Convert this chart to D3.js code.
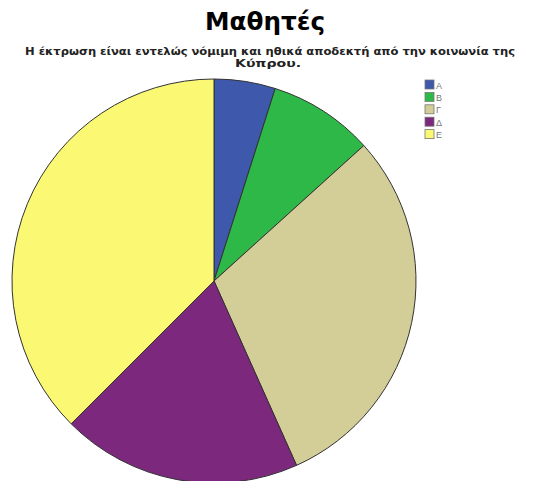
<!DOCTYPE html>
<html><head><meta charset="utf-8">
<script src="https://cdn.jsdelivr.net/npm/d3@7"></script>
<style>body{margin:0;background:#fff}svg{display:block}</style>
</head><body>
<script>
const categories = ["Α","Β","Γ","Δ","Ε"];
const values = [4.9, 8.4, 30.0, 19.2, 37.5];
const colors = ["#3E58AC","#2EB848","#D3CE97","#7C287D","#FBF873"];
const title = "Μαθητές";
const subtitle = ["Η έκτρωση είναι εντελώς νόμιμη και ηθικά αποδεκτή από την κοινωνία της","Κύπρου."];

const W=539,H=481;
const FONT="DejaVu Sans, Verdana, sans-serif";
const svg=d3.select("body").append("svg").attr("width",W).attr("height",H);
svg.append("text").attr("x",265).attr("y",30).attr("text-anchor","middle")
  .attr("font-family",FONT).attr("font-weight","bold").attr("font-size",24)
  .attr("textLength",120).attr("lengthAdjust","spacingAndGlyphs").text(title);
svg.append("text").attr("x",270).attr("y",55).attr("text-anchor","middle")
  .attr("font-family",FONT).attr("font-weight","bold").attr("font-size",10.5).attr("fill","#222")
  .attr("textLength",490).attr("lengthAdjust","spacingAndGlyphs").text(subtitle[0]);
svg.append("text").attr("x",268).attr("y",67).attr("text-anchor","middle")
  .attr("font-family",FONT).attr("font-weight","bold").attr("font-size",10.5).attr("fill","#222")
  .attr("textLength",66).attr("lengthAdjust","spacingAndGlyphs").text(subtitle[1]);

const pie=d3.pie().sort(null).value(d=>d)(values);
const arc=d3.arc().innerRadius(0).outerRadius(202);
const g=svg.append("g").attr("transform","translate(214,281)");
g.selectAll("path").data(pie).join("path").attr("d",arc)
  .attr("fill",(d,i)=>colors[i]).attr("stroke","#333").attr("stroke-width",1);

const color=d3.scaleOrdinal().domain(categories).range(colors);
const lg=svg.append("g").attr("transform","translate(425,80)");
categories.forEach((c,i)=>{
  lg.append("rect").attr("x",0).attr("y",i*12.4).attr("width",9).attr("height",9)
    .attr("fill",color(c)).attr("stroke","#777").attr("stroke-width",0.8);
  lg.append("text").attr("x",11).attr("y",i*12.4+8.5).attr("font-family","Liberation Sans, Arial, sans-serif")
    .attr("font-size",9).attr("fill","#777").text(c);
});
</script>
</body></html>
